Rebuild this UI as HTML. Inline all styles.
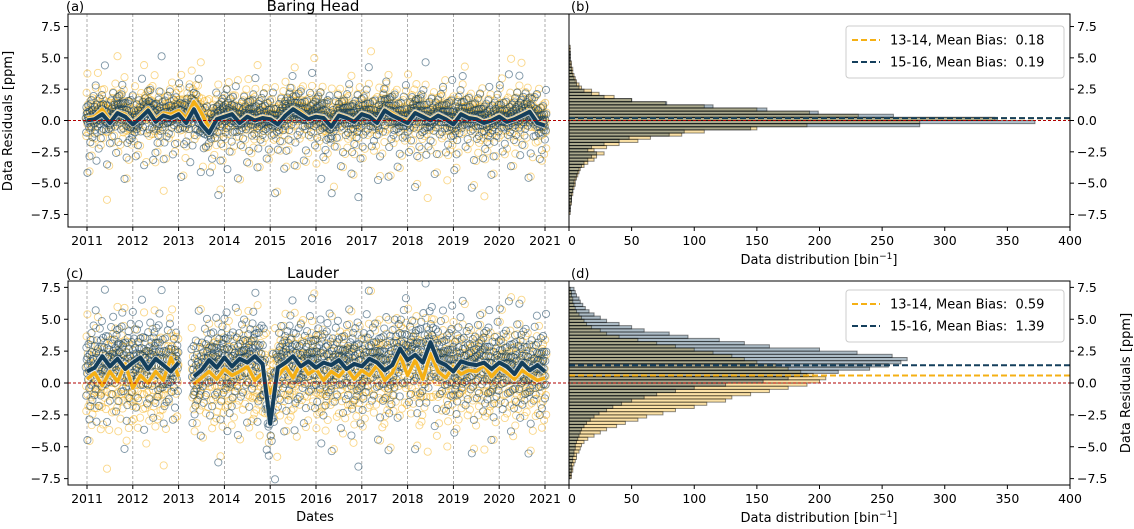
<!DOCTYPE html>
<html><head><meta charset="utf-8">
<style>
html,body{margin:0;padding:0;background:#fff;}
svg{display:block;font-family:"DejaVu Sans","Liberation Sans",sans-serif;}
text{white-space:pre;}
</style></head>
<body>
<svg id="fig" width="1134" height="529" viewBox="0 0 1134 529" xmlns="http://www.w3.org/2000/svg"></svg>
<script>
// ---------- DATA ----------
const yearTicks = [2011,2012,2013,2014,2015,2016,2017,2018,2019,2020,2021];
const yTickLabels = ["7.5","5.0","2.5","0.0","−2.5","−5.0","−7.5"];
const yTickValues = [7.5,5,2.5,0,-2.5,-5,-7.5];
const countTicks = [0,50,100,150,200,250,300,350,400];
const binStart = -7.5, binWidth = 0.25;
// Baring Head histograms (60 bins from -7.5 to 7.5)
const bhCounts1314 = [1,1,1,2,2,2,3,3,4,5, 5,6,7,8,9,12,15,20,22,28, 20,30,40,55,65,90,108,150,190,280, 340,231,192,150,108,77,50,36,24,18, 10,8,6,5,4,3,3,2,2,1, 1,1,1,1,0,0,0,0,0,0];
const bhCounts1516 = [0,1,1,1,2,2,2,3,3,4, 4,5,6,7,8,10,12,15,18,22, 15,18,28,40,48,80,92,145,280,372, 342,259,199,158,115,78,50,28,18,12, 8,6,5,4,3,2,2,1,1,1, 1,1,0,0,0,0,0,0,0,0];
// Lauder histograms
const ldCounts1314 = [2,2,3,3,4,5,6,6,8,9, 10,12,15,20,25,30,38,45,55,62, 75,85,100,110,125,130,145,160,175,190, 200,205,195,185,175,165,150,140,130,115, 100,85,70,55,40,30,25,18,14,12, 10,8,6,5,4,3,3,2,2,1];
const ldCounts1516 = [1,1,2,2,2,3,3,4,4,5, 5,6,7,8,9,10,12,14,17,20, 24,30,35,42,50,60,70,85,100,125, 155,175,190,215,240,255,265,270,258,230, 200,160,140,120,95,80,60,50,40,30, 25,20,16,13,11,9,8,6,5,4];
const bhMeanBias = [0.18, 0.19];
const ldMeanBias = [0.59, 1.39];
// smoothed series, one value every 2 months from 2011.0 to 2021.0
const bhSmooth1314 = [0.2,0.3,0.9,0.0,0.7,0.5,-0.2,0.4,1.0,0.1,0.6,0.5,0.8,0.2,1.5,0.6,-0.6,0.2,0.4,0.6,-0.1,0.4,0.1,0.3,0.2,-0.2,0.5,1.0,0.7,0.2,0.4,0.3,-0.3,0.5,0.3,0.0,0.6,0.4,-0.1,0.9,0.6,0.2,0.0,0.7,0.4,0.1,0.5,0.2,-0.2,0.6,0.3,0.2,-0.1,0.1,0.4,0.0,0.2,0.5,0.8,-0.1,-0.3];
const bhSmooth1516 = [0.0,0.1,0.5,-0.2,0.6,0.3,-0.3,0.2,0.8,-0.1,0.4,0.2,0.5,-0.2,0.9,-0.3,-1.0,0.1,0.3,0.5,-0.2,0.3,0.0,0.2,0.1,-0.3,0.4,0.9,0.5,0.1,0.3,0.2,-0.5,0.4,0.2,-0.1,0.5,0.3,-0.2,0.8,0.4,0.1,-0.2,0.6,0.3,0.0,0.4,0.1,-0.3,0.5,0.2,0.1,-0.2,0.0,0.3,-0.1,0.1,0.4,0.7,-0.2,-0.4];
const ldSmooth1314 = [0.3,0.8,-0.2,0.9,0.1,1.5,-0.4,0.6,0.0,0.9,0.2,2.0,0.5,null,-0.1,0.4,0.9,0.3,1.1,0.6,0.9,1.3,0.2,0.8,-0.8,0.5,1.3,0.4,1.6,0.7,1.1,0.2,0.9,0.5,1.2,0.3,1.0,0.6,1.4,0.2,0.8,2.2,0.6,1.8,0.3,2.3,0.9,0.4,1.3,0.7,1.0,0.9,1.4,0.5,1.2,0.8,0.3,1.0,0.6,0.2,0.4];
const ldSmooth1516 = [0.9,1.2,2.1,1.3,1.9,1.1,1.6,2.0,1.1,1.9,1.4,0.9,1.6,null,0.5,1.0,1.8,1.2,2.0,1.3,1.9,1.6,2.1,1.5,-3.2,1.2,1.6,2.1,1.3,1.7,1.2,1.6,1.4,1.8,1.1,1.5,1.3,1.9,1.6,1.0,1.4,2.7,1.8,2.2,1.6,3.2,1.7,1.4,0.9,1.7,1.5,1.4,1.6,1.1,1.6,1.3,0.7,1.6,1.0,1.4,0.9];
const smoothStart = 2011, smoothStep = 1/6;
const ldGap = [2013.0, 2013.28];

// ---------- LAYOUT ----------
const svg = document.getElementById('fig');
const NS = 'http://www.w3.org/2000/svg';
const ORANGE = '#f5b014', BLUE = '#143f5c';
function mk(tag, attrs, parent){const e=document.createElementNS(NS,tag);for(const k in attrs)e.setAttribute(k,attrs[k]);(parent||svg).appendChild(e);return e;}
const panels = [
 {key:'bh', top:14, bottom:227, ymin:-8.5, ymax:8.5, c1:bhCounts1314, c2:bhCounts1516, s1:bhSmooth1314, s2:bhSmooth1516, mb:bhMeanBias, title:'Baring Head', la:'(a)', lb:'(b)', gap:null, legTop:26},
 {key:'ld', top:281, bottom:485, ymin:-8, ymax:8, c1:ldCounts1314, c2:ldCounts1516, s1:ldSmooth1314, s2:ldSmooth1516, mb:ldMeanBias, title:'Lauder', la:'(c)', lb:'(d)', gap:ldGap, legTop:290}
];
const L0=68, L1=569, R0=569, R1=1070;
const xT = t => 87 + (t-2011)*(545-87)/10;
const xC = c => R0 + c*(R1-R0)/400;

function histSampler(counts){
  const cum=[];let s=0;counts.forEach(c=>{s+=c;cum.push(s);});
  let mean=0;counts.forEach((c,i)=>{mean+=c*(binStart+(i+0.5)*binWidth);});mean/=s;
  return {mean, q:u=>{const v=u*s;let i=0;while(i<cum.length-1&&cum[i]<v)i++;const prev=i?cum[i-1]:0;const f=counts[i]?(v-prev)/counts[i]:0.5;return binStart+(i+Math.min(1,Math.max(0,f)))*binWidth;}};
}
function smoothAt(arr,t){const p=(t-smoothStart)/smoothStep;const i=Math.max(0,Math.min(arr.length-2,Math.floor(p)));const a=arr[i],b=arr[i+1];const f=p-i;if(a==null&&b==null)return 0;if(a==null)return b;if(b==null)return a;return a+(b-a)*f;}

panels.forEach(P=>{
  const yV = v => P.top + (P.ymax-v)*(P.bottom-P.top)/(P.ymax-P.ymin);
  const g = mk('g',{});
  
  
  mk('defs',{},g).innerHTML = `<clipPath id="clipL${P.key}"><rect x="${L0}" y="${P.top}" width="${L1-L0}" height="${P.bottom-P.top}"/></clipPath><clipPath id="clipR${P.key}"><rect x="${R0}" y="${P.top}" width="${R1-R0}" height="${P.bottom-P.top}"/></clipPath>`;
  yearTicks.forEach(yr=>{
    const l=mk('line',{x1:xT(yr),x2:xT(yr),y1:P.top,y2:P.bottom,stroke:'#999',"stroke-width":0.8,"stroke-dasharray":'3,2'},g);
    
    
  });
  const sc = mk('g',{"clip-path":`url(#clipL${P.key})`},g);
  
  
  [[P.c1,P.s1,'rgba(245,176,20,0.5)',0.137,0.31],[P.c2,P.s2,'rgba(20,63,92,0.55)',0.391,0.77]].forEach(([counts,sm,col,off,off2])=>{
    const hs=histSampler(counts);const n=1500;
    for(let k=0;k<n;k++){
      const t=2010.97+((k*0.7548776662+off2)%1)*10.06;
      if(P.gap&&t>P.gap[0]&&t<P.gap[1])continue;
      const u=((k*0.5698402910+off)%1)*0.998+0.001;
      const v=hs.q(u)+(smoothAt(sm,t)-hs.mean);
      const c=mk('circle',{cx:xT(t).toFixed(1),cy:yV(v).toFixed(1),r:3.6,fill:'none',stroke:col,"stroke-width":0.9},sc);
      
      
    }
  });
  [[P.s1,ORANGE,3.5,'smooth-line-13-14'],[P.s2,BLUE,4,'smooth-line-15-16']].forEach(([arr,col,w,nm])=>{
    let d='',pen=false;
    arr.forEach((v,i)=>{if(v==null){pen=false;return;}const x=xT(smoothStart+i*smoothStep),y=yV(v);d+=(pen?'L':'M')+x.toFixed(1)+','+y.toFixed(1);pen=true;});
    const o=mk('path',{d,fill:'none',stroke:'rgba(255,255,255,0.6)',"stroke-width":w+2,"stroke-linejoin":'round',"clip-path":`url(#clipL${P.key})`},g);
    
    
    const p=mk('path',{d,fill:'none',stroke:col,"stroke-width":w,"stroke-linejoin":'round',"clip-path":`url(#clipL${P.key})`},g);
    
    
  });
  const hg=mk('g',{"clip-path":`url(#clipR${P.key})`},g);
  
  
  [[P.c1,'rgba(245,176,20,0.38)','hist-bar-13-14'],[P.c2,'rgba(20,63,92,0.35)','hist-bar-15-16']].forEach(([counts,fill,nm])=>{
    counts.forEach((c,i)=>{
      if(!c)return;
      const lo=binStart+i*binWidth,hi=lo+binWidth;
      const r=mk('rect',{x:R0,y:yV(hi),width:xC(c)-R0,height:yV(lo)-yV(hi),fill,stroke:'rgba(0,0,0,0.45)',"stroke-width":1},hg);
      
      
    });
  });
  const z=mk('line',{x1:L0,x2:R1,y1:yV(0),y2:yV(0),stroke:'#b00000',"stroke-width":1,"stroke-dasharray":'3,2'},g);
  
  
  [[P.mb[0],ORANGE,'mean-bias-13-14'],[P.mb[1],BLUE,'mean-bias-15-16']].forEach(([v,col,nm])=>{
    const l=mk('line',{x1:R0,x2:R1,y1:yV(v),y2:yV(v),stroke:col,"stroke-width":2,"stroke-dasharray":'6,3'},g);
    
    
  });
  mk('rect',{x:L0,y:P.top,width:L1-L0,height:P.bottom-P.top,fill:'none',stroke:'#000',"stroke-width":1},g);
  mk('rect',{x:R0,y:P.top,width:R1-R0,height:P.bottom-P.top,fill:'none',stroke:'#000',"stroke-width":1},g);
  yTickValues.forEach((v,i)=>{
    const y=yV(v);
    mk('line',{x1:L0-4,x2:L0,y1:y,y2:y,stroke:'#000'},g);
    const t=mk('text',{x:L0-7,y:y+4.5,"text-anchor":'end',"font-size":12.5},g);t.textContent=yTickLabels[i];
    
    
    mk('line',{x1:R1,x2:R1+4,y1:y,y2:y,stroke:'#000'},g);
    const t2=mk('text',{x:R1+7,y:y+4.5,"font-size":12.5},g);t2.textContent=yTickLabels[i];
    
    
  });
  yearTicks.forEach(yr=>{
    const x=xT(yr);
    mk('line',{x1:x,x2:x,y1:P.bottom,y2:P.bottom+4,stroke:'#000'},g);
    const t=mk('text',{x,y:P.bottom+18,"text-anchor":'middle',"font-size":12.5},g);t.textContent=yr;
    
    
  });
  countTicks.forEach(c=>{
    const x=xC(c);
    mk('line',{x1:x,x2:x,y1:P.bottom,y2:P.bottom+4,stroke:'#000'},g);
    const t=mk('text',{x:x+(c===0?3:0),y:P.bottom+18,"text-anchor":'middle',"font-size":12.5},g);t.textContent=c;
    
    
  });
  const xl=mk('text',{x:819,y:P.bottom+37,"text-anchor":'middle',"font-size":13},g);
  xl.innerHTML='Data distribution [bin<tspan dy="-5" font-size="9">−1</tspan><tspan dy="5">]</tspan>';
  
  
  const ti=mk('text',{x:313,y:P.top-3,"text-anchor":'middle',"font-size":15},g);ti.textContent=P.title;
  
  
  const a=mk('text',{x:L0-2,y:P.top-3,"font-size":13},g);a.textContent=P.la;
  
  
  const b=mk('text',{x:R0+2,y:P.top-3,"font-size":13},g);b.textContent=P.lb;
  
  
  const lg=mk('g',{},g);
  
  
  mk('rect',{x:846,y:P.legTop,width:218,height:52,rx:3,fill:'rgba(255,255,255,0.85)',stroke:'#ccc'},lg);
  [[ORANGE,`13-14, Mean Bias:  ${P.mb[0].toFixed(2)}`],[BLUE,`15-16, Mean Bias:  ${P.mb[1].toFixed(2)}`]].forEach(([col,txt],i)=>{
    const yy=P.legTop+14+i*22;
    mk('line',{x1:852,x2:880,y1:yy,y2:yy,stroke:col,"stroke-width":2,"stroke-dasharray":'6,3'},lg);
    const t=mk('text',{x:890,y:yy+4.5,"font-size":13},lg);t.textContent=txt;
    
    
  });
});
const yl=mk('text',{x:0,y:0,"text-anchor":'middle',"font-size":13,transform:'translate(12,121) rotate(-90)'});yl.textContent='Data Residuals [ppm]';


const yr=mk('text',{x:0,y:0,"text-anchor":'middle',"font-size":13,transform:'translate(1130,383) rotate(-90)'});yr.textContent='Data Residuals [ppm]';


const dl=mk('text',{x:315,y:521,"text-anchor":'middle',"font-size":13});dl.textContent='Dates';


</script>
</body></html>
